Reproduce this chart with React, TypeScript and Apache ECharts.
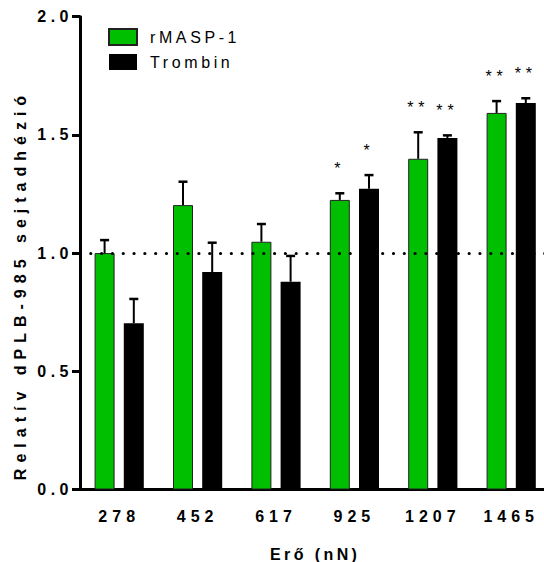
import React, { useEffect, useRef } from 'react';
import * as echarts from 'echarts';

const categories = ['278', '452', '617', '925', '1207', '1465'];
const seriesNames = ['rMASP-1', 'Trombin'];
const maspValues = [1.0, 1.203, 1.048, 1.225, 1.399, 1.593];
const maspErrTop = [1.055, 1.302, 1.123, 1.253, 1.511, 1.643];
const trombinValues = [0.703, 0.92, 0.879, 1.272, 1.487, 1.635];
const trombinErrTop = [0.806, 1.044, 0.988, 1.33, 1.498, 1.655];
const maspSig = ['', '', '', '*', '**', '**'];
const trombinSig = ['', '', '', '*', '**', '**'];
const yTickLabels = ['0.0', '0.5', '1.0', '1.5', '2.0'];
const refValue = 1.0;
const xTitle = 'Erő (nN)';
const yTitle = 'Relatív dPLB-985 sejtadhézió';

const FONT = "'Liberation Sans', Arial, sans-serif";
const GREEN = '#00BE00';

const spacing: Record<string, number> = {};
categories.forEach((c) => (spacing[c] = 5));
yTickLabels.forEach((c) => (spacing[c] = 4.5));
seriesNames.forEach((c) => (spacing[c] = 3.6));
spacing[yTitle] = 6;
spacing[xTitle] = 3.4;
spacing['*'] = 4.8;
spacing['**'] = 4.8;

function errRender(offset: number, sigs: string[]) {
  return (params: any, api: any) => {
    const i = api.value(0);
    const base = api.coord([i, api.value(1)]);
    const top = api.coord([i, api.value(2)]);
    const x = base[0] + offset;
    const children: any[] = [
      { type: 'line', shape: { x1: x, y1: base[1], x2: x, y2: top[1] }, style: { stroke: '#000', lineWidth: 2 } },
      { type: 'line', shape: { x1: x - 4.5, y1: top[1], x2: x + 4.5, y2: top[1] }, style: { stroke: '#000', lineWidth: 2.5 } },
    ];
    const sig = sigs[params.dataIndex];
    if (sig) {
      children.push({
        type: 'text',
        x,
        y: top[1] - 24.5,
        style: { text: sig, fill: '#000', font: `16px ${FONT}`, align: 'center', verticalAlign: 'middle' },
      });
    }
    return { type: 'group', children };
  };
}

export default function App() {
  const ref = useRef<HTMLDivElement>(null);
  useEffect(() => {
    const el = ref.current!;
    const chart = echarts.init(el, undefined, { renderer: 'svg' });
    const applySpacing = () => {
      el.querySelectorAll('text').forEach((t) => {
        const s = spacing[t.textContent ?? ''];
        if (s !== undefined) t.setAttribute('letter-spacing', `${s}px`);
      });
    };
    chart.on('finished', applySpacing);
    const offset = 14.6;
    const option: any = {
      animation: false,
      backgroundColor: '#fff',
      grid: {
        left: 80,
        top: 16.7,
        width: 470.4,
        height: 472.8,
        containLabel: false,
        outerBoundsMode: 'none',
      },
      legend: {
        orient: 'vertical',
        left: 108,
        top: 28,
        padding: 0,
        itemWidth: 28,
        itemHeight: 16,
        itemGap: 8,
        icon: 'rect',
        selectedMode: false,
        data: seriesNames,
        textStyle: { fontFamily: FONT, fontSize: 16, color: '#000', padding: [0, 0, 0, 8] },
      },
      xAxis: {
        type: 'category',
        data: categories,
        axisLine: { lineStyle: { color: '#000', width: 3 } },
        axisTick: { alignWithLabel: true, length: 6, lineStyle: { color: '#000', width: 3 } },
        axisLabel: { margin: 18.5, fontFamily: FONT, fontWeight: 'bold', fontSize: 16, color: '#000' },
        name: xTitle,
        nameLocation: 'middle',
        nameGap: 56.5,
        nameTextStyle: { fontFamily: FONT, fontWeight: 'bold', fontSize: 16, color: '#000' },
      },
      yAxis: {
        type: 'value',
        min: 0,
        max: 2,
        interval: 0.5,
        splitLine: { show: false },
        axisLine: { show: true, lineStyle: { color: '#000', width: 3 } },
        axisTick: { show: true, length: 8, lineStyle: { color: '#000', width: 3 } },
        axisLabel: {
          margin: 7,
          fontFamily: FONT,
          fontWeight: 'bold',
          fontSize: 16,
          color: '#000',
          formatter: (v: number) => v.toFixed(1),
        },
      },
      graphic: [
        {
          type: 'text',
          x: 20,
          y: 285,
          rotation: Math.PI / 2,
          style: {
            text: yTitle,
            font: `bold 16px ${FONT}`,
            fill: '#000',
            align: 'center',
            verticalAlign: 'middle',
          },
        },
      ],
      series: [
        {
          name: 'ref',
          type: 'line',
          data: [],
          z: 1,
          silent: true,
          markLine: {
            silent: true,
            symbol: ['none', 'none'],
            label: { show: false },
            lineStyle: { color: '#000', width: 3.2, type: [0.01, 10.8], cap: 'round' },
            data: [{ yAxis: refValue }],
          },
        },
        {
          name: seriesNames[0],
          type: 'bar',
          data: maspValues,
          barWidth: 20,
          barGap: '46%',
          z: 3,
          itemStyle: { color: GREEN, borderColor: '#222', borderWidth: 1 },
        },
        {
          name: seriesNames[1],
          type: 'bar',
          data: trombinValues,
          barWidth: 20,
          barGap: '46%',
          z: 3,
          itemStyle: { color: '#000' },
        },
        {
          type: 'custom',
          z: 4,
          silent: true,
          encode: { x: 0, y: [1, 2] },
          data: categories.map((_, i) => [i, maspValues[i], maspErrTop[i]]),
          renderItem: errRender(-offset, maspSig),
        },
        {
          type: 'custom',
          z: 4,
          silent: true,
          encode: { x: 0, y: [1, 2] },
          data: categories.map((_, i) => [i, trombinValues[i], trombinErrTop[i]]),
          renderItem: errRender(offset, trombinSig),
        },
      ],
    };
    chart.setOption(option);
    applySpacing();
    const raf = requestAnimationFrame(applySpacing);
    const t = setTimeout(applySpacing, 100);
    return () => {
      cancelAnimationFrame(raf);
      clearTimeout(t);
      chart.dispose();
    };
  }, []);
  return (
    <div
      ref={ref}
      style={{ position: 'absolute', left: 0, top: 0, width: 544, height: 562, background: '#fff' }}
    />
  );
}
